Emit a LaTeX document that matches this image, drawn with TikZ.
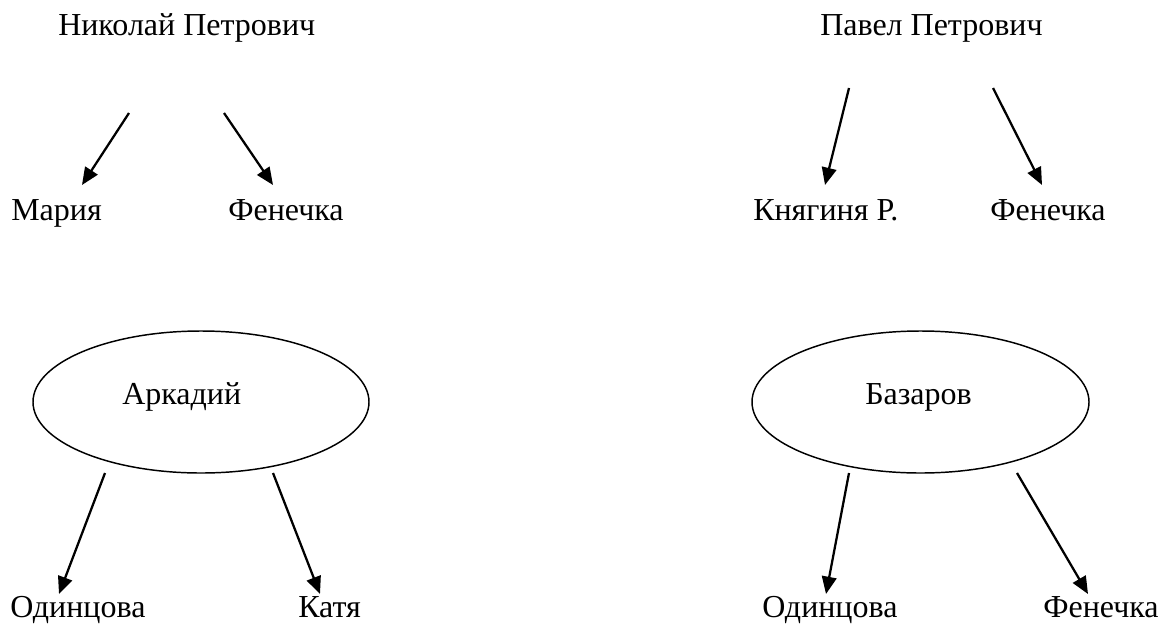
\documentclass[tikz,border=0pt]{standalone}
\usepackage{fontspec}
\setmainfont{Liberation Serif}
\usetikzlibrary{arrows.meta,shapes.geometric}
\begin{document}
\begin{tikzpicture}[x=0.75pt,y=-0.75pt,
  lbl/.style={anchor=base west,inner sep=0pt,font=\fontsize{24pt}{28pt}\selectfont},
  oval/.style={draw,ellipse,line width=1.1pt,inner sep=0pt},
  arr/.style={line width=1.7pt,-{Triangle[length=13pt,width=11pt]}}]
\useasboundingbox (0,0) rectangle (1159,625);
% top texts
\node[lbl] (np) at (58,35) {Николай Петрович};
\node[lbl] (pp) at (820,35) {Павел Петрович};
\node[lbl] (maria) at (11,220) {Мария};
\node[lbl] (fen1) at (228,220) {Фенечка};
\node[lbl] (kn) at (753,220) {Княгиня Р.};
\node[lbl] (fen2) at (990,220) {Фенечка};
% ellipses
\node[oval,minimum width=252pt,minimum height=106.5pt] (ark) at (201,402) {};
\node[oval,minimum width=252.75pt,minimum height=106.5pt] (baz) at (920.5,402) {};
\node[lbl] (arkt) at (122,404) {Аркадий};
\node[lbl] (bazt) at (865,404) {Базаров};
% bottom texts
\node[lbl] (od1) at (10,617) {Одинцова};
\node[lbl] (katya) at (298,617) {Катя};
\node[lbl] (od2) at (762,617) {Одинцова};
\node[lbl] (fen3) at (1043,617) {Фенечка};
% arrow ends
\coordinate (a1s) at (129,113); \coordinate (a1e) at (82,185);
\coordinate (a2s) at (224,113); \coordinate (a2e) at (273,185);
\coordinate (a3s) at (849,88);  \coordinate (a3e) at (825,185);
\coordinate (a4s) at (993,88);  \coordinate (a4e) at (1042,185);
\coordinate (a5s) at (105,473); \coordinate (a5e) at (59,594);
\coordinate (a6s) at (273,473); \coordinate (a6e) at (320,594);
\coordinate (a7s) at (849,473); \coordinate (a7e) at (826,594);
\coordinate (a8s) at (1017,473); \coordinate (a8e) at (1088,594);
\draw[arr] (a1s) -- (a1e);
\draw[arr] (a2s) -- (a2e);
\draw[arr] (a3s) -- (a3e);
\draw[arr] (a4s) -- (a4e);
\draw[arr] (a5s) -- (a5e);
\draw[arr] (a6s) -- (a6e);
\draw[arr] (a7s) -- (a7e);
\draw[arr] (a8s) -- (a8e);
\end{tikzpicture}
\end{document}
